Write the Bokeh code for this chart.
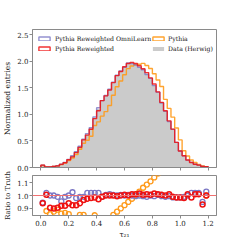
import numpy as np
from bokeh.plotting import figure
from bokeh.layouts import column
from bokeh.models import Range1d, Legend, LegendItem, FixedTicker, NumeralTickFormatter, Span
from bokeh.embed import file_html
from bokeh.resources import INLINE

# ---------------- data (45 bins over 0 .. 1.2) ----------------
bin_lo = 0.0
bin_hi = 1.2
n_bins = 45

data_herwig = [0.047, 0.010, 0.011, 0.022, 0.033, 0.065, 0.098, 0.154, 0.216, 0.303,
               0.404, 0.539, 0.626, 0.735, 0.934, 1.103, 1.273, 1.350, 1.460, 1.600,
               1.739, 1.810, 1.890, 1.960, 1.960, 1.940, 1.890, 1.850, 1.770, 1.680,
               1.550, 1.410, 1.220, 1.070, 0.870, 0.730, 0.480, 0.315, 0.225, 0.139,
               0.095, 0.062, 0.044, 0.022, 0.013]

ratio_omnilearn = [0.945, 1.020, 1.000, 1.000, 0.990, 0.955, 0.990, 1.000, 1.025, 0.980,
                   0.990, 0.990, 1.020, 1.020, 1.020, 1.020, 0.990, 1.005, 1.010, 1.005,
                   1.000, 1.005, 1.000, 1.005, 1.000, 0.995, 1.000, 0.995, 0.990, 1.000,
                   0.995, 1.005, 0.995, 0.990, 0.995, 0.985, 0.985, 0.985, 0.990, 1.000,
                   1.020, 1.020, 1.020, 0.950, 1.030]

ratio_reweighted = [0.940, 1.005, 0.905, 0.900, 0.905, 0.920, 0.920, 0.940, 0.925, 0.925,
                    0.940, 0.965, 0.975, 0.980, 0.985, 0.970, 0.990, 1.000, 1.000, 1.000,
                    0.995, 1.000, 1.005, 1.000, 1.010, 1.010, 1.015, 1.005, 1.010, 1.005,
                    1.015, 1.010, 1.005, 1.000, 1.010, 0.990, 0.985, 0.985, 0.980, 1.010,
                    0.985, 1.010, 1.010, 0.930, 1.000]

ratio_pythia = [0.800, 0.880, 0.855, 0.875, 0.890, 0.860, 0.865, 0.855, 0.820, 0.800,
                0.850, 0.850, 0.820, 0.800, 0.847, 0.780, 0.760, 0.780, 0.800, 0.850,
                0.875, 0.900, 0.925, 0.950, 0.975, 1.000, 1.030, 1.060, 1.085, 1.110,
                1.140, 1.170, 1.250, 1.200, 1.280, 1.300, 1.550, 1.650, 1.400, 1.550,
                1.500, 1.500, 1.300, 1.400, 1.000]

x_ticks = [0.0, 0.2, 0.4, 0.6, 0.8, 1.0, 1.2]
y_ticks_main = [0.0, 0.5, 1.0, 1.5, 2.0, 2.5]
y_ticks_ratio = [0.9, 1.0, 1.1]

labels = ["Pythia Reweighted OmniLearn", "Pythia Reweighted", "Pythia", "Data (Herwig)"]
C_OMNI = "#7b77c4"
C_RW = "#ee1111"
C_PY = "#ff9a1a"
C_DATA = "#cbcbcb"

# ---------------- derived histograms ----------------
edges = np.linspace(bin_lo, bin_hi, n_bins + 1)
centers = 0.5 * (edges[:-1] + edges[1:])
data = np.array(data_herwig)
h_omni = data * np.array(ratio_omnilearn)
h_rw = data * np.array(ratio_reweighted)
h_py = data * np.array(ratio_pythia)


def step_xy(h):
    xs = np.repeat(edges, 2)
    ys = np.concatenate([[0.0], np.repeat(h, 2), [0.0]])
    return xs, ys


FONT = "DejaVu Serif"
FRAME = "#8a8a8a"


def style(p):
    p.outline_line_color = FRAME
    p.outline_line_width = 1
    p.xgrid.visible = False
    p.ygrid.visible = False
    for ax in (p.xaxis, p.yaxis):
        ax.axis_line_color = FRAME
        ax.major_tick_line_color = FRAME
        ax.major_tick_out = 3
        ax.major_tick_in = 0
        ax.minor_tick_out = 0
        ax.minor_tick_in = 0
        ax.major_label_text_font = FONT
        ax.major_label_text_font_size = "7px"
        ax.major_label_text_color = "#222222"
        ax.major_label_standoff = 1
        ax.axis_label_text_font = FONT
        ax.axis_label_text_font_size = "7.5px"
        ax.axis_label_text_font_style = "normal"
        ax.axis_label_text_color = "#222222"
        ax.axis_label_standoff = 2
        ax.formatter = NumeralTickFormatter(format="0.0")


xr = Range1d(-0.06, 1.26)

# ---------------- main panel ----------------
p1 = figure(width=233, height=171, x_range=xr, y_range=Range1d(0, 2.6),
            output_backend="svg", toolbar_location=None,
            min_border_left=23, min_border_right=17, min_border_top=29, min_border_bottom=4)
style(p1)
p1.xaxis.ticker = FixedTicker(ticks=x_ticks)
p1.yaxis.ticker = FixedTicker(ticks=y_ticks_main)
p1.xaxis.major_label_text_font_size = "0px"
p1.xaxis.major_label_standoff = 0
p1.yaxis.axis_label = "Normalized entries"

xs, ys = step_xy(data)
r_data = p1.patch(xs, ys, fill_color=C_DATA, line_color=None)
xs, ys = step_xy(h_py)
p1.line(xs, ys, line_color=C_PY, line_width=1.4, line_alpha=0.9)
xs, ys = step_xy(h_omni)
p1.line(xs, ys, line_color=C_OMNI, line_width=1.4, line_alpha=0.8)
xs, ys = step_xy(h_rw)
p1.line(xs, ys, line_color=C_RW, line_width=1.4, line_alpha=0.85)

# legend box glyphs (hidden renderers of the same histograms)
g_omni = p1.quad(left=edges[:-1], right=edges[1:], top=h_omni, bottom=0, fill_alpha=0,
                 line_color=C_OMNI, line_width=1.4, line_alpha=0.8, visible=False)
g_rw = p1.quad(left=edges[:-1], right=edges[1:], top=h_rw, bottom=0, fill_alpha=0,
               line_color=C_RW, line_width=1.4, line_alpha=0.85, visible=False)
g_py = p1.quad(left=edges[:-1], right=edges[1:], top=h_py, bottom=0, fill_alpha=0,
               line_color=C_PY, line_width=1.4, line_alpha=0.9, visible=False)

leg_kw = dict(label_text_font=FONT, label_text_font_size="6.2px", label_text_color="#111111",
              glyph_width=14, glyph_height=5, label_height=8, label_standoff=4,
              spacing=2, padding=3, margin=2,
              inactive_fill_alpha=0,
              background_fill_alpha=0, border_line_alpha=0)
leg1 = Legend(items=[LegendItem(label=labels[0], renderers=[g_omni]),
                     LegendItem(label=labels[1], renderers=[g_rw])],
              location="top_left", **leg_kw)
leg_kw2 = dict(leg_kw, label_standoff=3)
leg2 = Legend(items=[LegendItem(label=labels[2], renderers=[g_py]),
                     LegendItem(label=labels[3], renderers=[r_data])],
              location=(116, 112), **leg_kw2)
p1.add_layout(leg1)
p1.add_layout(leg2)

# ---------------- ratio panel ----------------
p2 = figure(width=233, height=70, x_range=xr, y_range=Range1d(0.845, 1.155),
            output_backend="svg", toolbar_location=None,
            min_border_left=23, min_border_right=17, min_border_top=4, min_border_bottom=19)
style(p2)
p2.xaxis.ticker = FixedTicker(ticks=x_ticks)
p2.yaxis.ticker = FixedTicker(ticks=y_ticks_ratio)
p2.xaxis.axis_label = "τ₂₁"
p2.xaxis.axis_label_standoff = 1
p2.yaxis.axis_label = "Ratio to Truth"
p2.yaxis.axis_label_text_font_size = "6.8px"

p2.add_layout(Span(location=1.0, dimension="width", line_color="#f07070", line_width=1))
p2.scatter(centers, ratio_pythia, marker="circle", size=5, fill_alpha=0,
           line_color=C_PY, line_width=1.3)
p2.scatter(centers, ratio_omnilearn, marker="circle", size=5, fill_alpha=0,
           line_color=C_OMNI, line_width=1.3)
p2.scatter(centers, ratio_reweighted, marker="circle", size=5, fill_alpha=0,
           line_color=C_RW, line_width=1.5)

layout = column(p1, p2, spacing=0)
open("out.html", "w").write(file_html(layout, INLINE))
